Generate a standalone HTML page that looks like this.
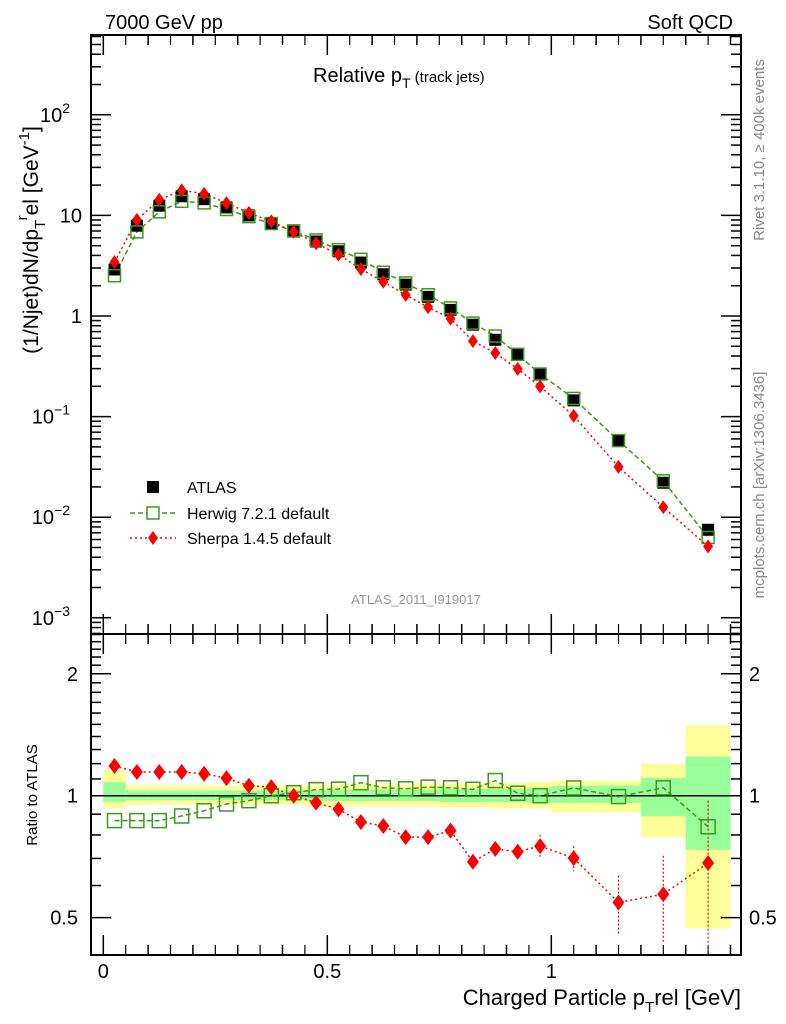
<!DOCTYPE html>
<html><head><meta charset="utf-8"><style>
body{margin:0;background:#fff}
svg{font-family:"Liberation Sans",sans-serif;display:block}
</style></head><body>
<svg id="c" width="786" height="1024" xmlns="http://www.w3.org/2000/svg">
<rect width="786" height="1024" fill="#fff"/>
<g id="bands"></g><g id="grid"></g><g id="series"></g>
<rect x="91" y="35" width="650" height="599" fill="none" stroke="#000" stroke-width="2"/>
<rect x="91" y="634" width="650" height="321" fill="none" stroke="#000" stroke-width="2"/>
<text x="105" y="29" font-size="20">7000 GeV pp</text>
<text x="733" y="29" font-size="20" text-anchor="end">Soft QCD</text>
<text x="313" y="82" font-size="20">Relative p<tspan dy="6" font-size="14">T</tspan><tspan dy="-6" font-size="15"> (track jets)</tspan></text>
<text x="416" y="604" font-size="13" fill="#999" text-anchor="middle">ATLAS_2011_I919017</text>
<text transform="translate(764,150) rotate(-90)" font-size="15" fill="#888" text-anchor="middle">Rivet 3.1.10, ≥ 400k events</text>
<text transform="translate(764,485) rotate(-90)" font-size="15" fill="#888" text-anchor="middle">mcplots.cern.ch [arXiv:1306.3436]</text>
<text transform="translate(38,240) rotate(-90)" font-size="21" text-anchor="middle">(1/Njet)dN/dp<tspan dy="7" font-size="15">T</tspan><tspan dy="-18" font-size="15">r</tspan><tspan dy="11">el [GeV</tspan><tspan dy="-9" font-size="15">-1</tspan><tspan dy="9">]</tspan></text>
<text transform="translate(37,795) rotate(-90)" font-size="15" text-anchor="middle">Ratio to ATLAS</text>
<text x="741" y="1005" font-size="22" text-anchor="end">Charged Particle p<tspan dy="7" font-size="15">T</tspan><tspan dy="-7">rel [GeV]</tspan></text>
<g>
<rect x="147" y="481" width="12" height="12" fill="#000"/>
<text x="187" y="493" font-size="16">ATLAS</text>
<line x1="130" y1="513" x2="176" y2="513" stroke="#3a9a1a" stroke-width="1.5" stroke-dasharray="5,3"/>
<rect x="147" y="507" width="12" height="12" fill="#fff" stroke="#3a9a1a" stroke-width="1.5"/>
<text x="187" y="519" font-size="16">Herwig 7.2.1 default</text>
<line x1="130" y1="538" x2="176" y2="538" stroke="#f00" stroke-width="1.5" stroke-dasharray="2,3"/>
<polygon points="153,531 158,538 153,545 148,538" fill="#f00"/>
<text x="187" y="544" font-size="16">Sherpa 1.4.5 default</text>
</g>
</svg>
<script>
const xCenters=[0.025,0.075,0.125,0.175,0.225,0.275,0.325,0.375,0.425,0.475,0.525,0.575,0.625,0.675,0.725,0.775,0.825,0.875,0.925,0.975,1.05,1.15,1.25,1.35];
const xHalfWidths=[0.025,0.025,0.025,0.025,0.025,0.025,0.025,0.025,0.025,0.025,0.025,0.025,0.025,0.025,0.025,0.025,0.025,0.025,0.025,0.025,0.05,0.05,0.05,0.05];
const atlas=[2.9,7.9,12.5,15.5,14.5,12.0,10.0,8.3,6.9,5.5,4.4,3.4,2.6,2.05,1.55,1.15,0.82,0.58,0.41,0.265,0.145,0.058,0.022,0.0075];
const herwigRatio=[0.868,0.868,0.868,0.891,0.918,0.954,0.972,1.0,1.017,1.035,1.038,1.077,1.046,1.04,1.05,1.046,1.037,1.09,1.014,1.0,1.045,0.995,1.046,0.838];
const sherpaRatio=[1.184,1.144,1.144,1.144,1.133,1.105,1.058,1.05,1.0,0.961,0.926,0.861,0.842,0.79,0.79,0.82,0.687,0.739,0.727,0.751,0.701,0.545,0.571,0.682];
const sherpaErr=[0.01,0.01,0.01,0.01,0.01,0.01,0.01,0.01,0.01,0.01,0.01,0.01,0.01,0.02,0.02,0.03,0.03,0.03,0.03,0.05,0.05,0.09,0.14,0.29];
const bandYellowUp=[1.155,1.06,1.06,1.06,1.06,1.06,1.06,1.06,1.06,1.06,1.065,1.065,1.065,1.065,1.07,1.07,1.07,1.075,1.075,1.08,1.09,1.09,1.2,1.49];
const bandYellowDn=[0.93,0.95,0.95,0.95,0.95,0.95,0.95,0.95,0.95,0.94,0.94,0.94,0.94,0.94,0.94,0.935,0.935,0.93,0.93,0.93,0.91,0.91,0.79,0.47];
const bandGreenUp=[1.08,1.03,1.03,1.03,1.03,1.03,1.03,1.03,1.03,1.03,1.035,1.035,1.035,1.035,1.035,1.04,1.04,1.04,1.04,1.045,1.057,1.06,1.106,1.25];
const bandGreenDn=[0.965,0.975,0.975,0.975,0.975,0.975,0.975,0.975,0.975,0.97,0.97,0.97,0.97,0.97,0.97,0.965,0.965,0.965,0.965,0.96,0.96,0.96,0.89,0.735];
const xTicks=[0,0.5,1];
const mainTicks=[-3,-2,-1,0,1,2];
const mainTickLabels=["10","10","10","1","10","10"];
const mainTickExp=["−3","−2","−1","","","2"];
const ratioTicks=[0.5,1,2];
const ratioTickLabels=["0.5","1","2"];

const NS="http://www.w3.org/2000/svg";
const X=v=>103.3+448*v;
const Ym=v=>316-100.6*Math.log10(v);
const Yr=v=>795.7-405*Math.log10(v);
function mk(tag,attrs,parent){const e=document.createElementNS(NS,tag);for(const k in attrs)e.setAttribute(k,attrs[k]);parent.appendChild(e);return e;}
const bands=document.getElementById('bands'),grid=document.getElementById('grid'),ser=document.getElementById('series');

xCenters.forEach((c,i)=>{
 const x0=X(c-xHalfWidths[i]),w=X(c+xHalfWidths[i])-x0;
 const y=mk('rect',{x:x0,y:Yr(bandYellowUp[i]),width:w,height:Yr(bandYellowDn[i])-Yr(bandYellowUp[i]),fill:'#ffff99'},bands);
 
 
 const g=mk('rect',{x:x0,y:Yr(bandGreenUp[i]),width:w,height:Yr(bandGreenDn[i])-Yr(bandGreenUp[i]),fill:'#99ff99'},bands);
 
 
});
mk('line',{x1:91,x2:741,y1:Yr(1),y2:Yr(1),stroke:'#000','stroke-width':1.5},bands);

for(let v=0;v<=1.4001;v+=0.1){
 const big=Math.abs(v*2-Math.round(v*2))<1e-6, L=big?20:10, x=X(v);
 [[634,-1],[955,-1],[35,1],[634,1]].forEach(([y0,d])=>mk('line',{x1:x,x2:x,y1:y0,y2:y0+d*L,stroke:'#000','stroke-width':1.5},grid));
}
for(let v=0.05;v<1.4;v+=0.1){const x=X(v);[[634,-1,10],[955,-1,10],[35,1,10],[634,1,10]].forEach(([y0,d,L])=>mk('line',{x1:x,x2:x,y1:y0,y2:y0+d*L,stroke:'#000','stroke-width':1.2},grid));}
xTicks.forEach(v=>{const t=mk('text',{x:X(v),y:978,'font-size':20,'text-anchor':'middle'},grid);t.textContent=String(v);});

for(let d=-4;d<=2;d++){for(let m=1;m<10;m++){const y=Ym(m*Math.pow(10,d));if(y<35||y>634)continue;const L=m==1?20:10;
 mk('line',{x1:91,x2:91+L,y1:y,y2:y,stroke:'#000','stroke-width':1.5},grid);mk('line',{x1:741,x2:741-L,y1:y,y2:y,stroke:'#000','stroke-width':1.5},grid);}}
mainTicks.forEach((p,i)=>{const y=Ym(Math.pow(10,p));const t=mk('text',{x:mainTickExp[i]?70:82,y:y+7,'font-size':20,'text-anchor':'end'},grid);t.textContent=mainTickLabels[i];
 if(mainTickExp[i]){const s=mk('tspan',{dy:-9,'font-size':14},t);s.textContent=mainTickExp[i];}
 });

for(let v=0.4;v<=2.5001;v+=0.1){const y=Yr(v);if(y<634||y>955)continue;const L=(Math.abs(v-0.5)<1e-6||Math.abs(v-1)<1e-6||Math.abs(v-2)<1e-6)?20:10;
 mk('line',{x1:91,x2:91+L,y1:y,y2:y,stroke:'#000','stroke-width':1.5},grid);mk('line',{x1:741,x2:741-L,y1:y,y2:y,stroke:'#000','stroke-width':1.5},grid);}
ratioTicks.forEach((v,i)=>{const y=Yr(v)+7;
 const t=mk('text',{x:78,y:y,'font-size':20,'text-anchor':'end'},grid);t.textContent=ratioTickLabels[i];
 const t2=mk('text',{x:749,y:y,'font-size':20},grid);t2.textContent=ratioTickLabels[i];});

const herwig=atlas.map((a,i)=>a*herwigRatio[i]), sherpa=atlas.map((a,i)=>a*sherpaRatio[i]);
mk('polyline',{points:xCenters.map((c,i)=>X(c)+','+Ym(herwig[i])).join(' '),fill:'none',stroke:'#3a9a1a','stroke-width':1.5,'stroke-dasharray':'5,3'},ser);
mk('polyline',{points:xCenters.map((c,i)=>X(c)+','+Ym(sherpa[i])).join(' '),fill:'none',stroke:'#f00','stroke-width':1.5,'stroke-dasharray':'2,3'},ser);
xCenters.forEach((c,i)=>{const x=X(c);
 const a=mk('rect',{x:x-6,y:Ym(atlas[i])-6,width:12,height:12,fill:'#000'},ser);
 const h=mk('rect',{x:x-6,y:Ym(herwig[i])-6,width:12,height:12,fill:'none',stroke:'#3a9a1a','stroke-width':1.5},ser);
 const y=Ym(sherpa[i]);const s=mk('polygon',{points:`${x},${y-7} ${x+5},${y} ${x},${y+7} ${x-5},${y}`,fill:'#f00'},ser);
});
mk('polyline',{points:xCenters.map((c,i)=>X(c)+','+Yr(herwigRatio[i])).join(' '),fill:'none',stroke:'#3a9a1a','stroke-width':1.5,'stroke-dasharray':'5,3'},ser);
mk('polyline',{points:xCenters.map((c,i)=>X(c)+','+Yr(sherpaRatio[i])).join(' '),fill:'none',stroke:'#f00','stroke-width':1.5,'stroke-dasharray':'2,3'},ser);
xCenters.forEach((c,i)=>{const x=X(c);
 const e=sherpaErr[i];mk('line',{x1:x,x2:x,y1:Yr(sherpaRatio[i]+e),y2:Yr(Math.max(0.41,sherpaRatio[i]-e)),stroke:'#f00','stroke-width':1.2,'stroke-dasharray':'2,2'},ser);
 const h=mk('rect',{x:x-7,y:Yr(herwigRatio[i])-7,width:14,height:14,fill:'none',stroke:'#3a9a1a','stroke-width':1.5},ser);
 const y=Yr(sherpaRatio[i]);const s=mk('polygon',{points:`${x},${y-8} ${x+6},${y} ${x},${y+8} ${x-6},${y}`,fill:'#f00'},ser);
});
</script>
</body></html>
